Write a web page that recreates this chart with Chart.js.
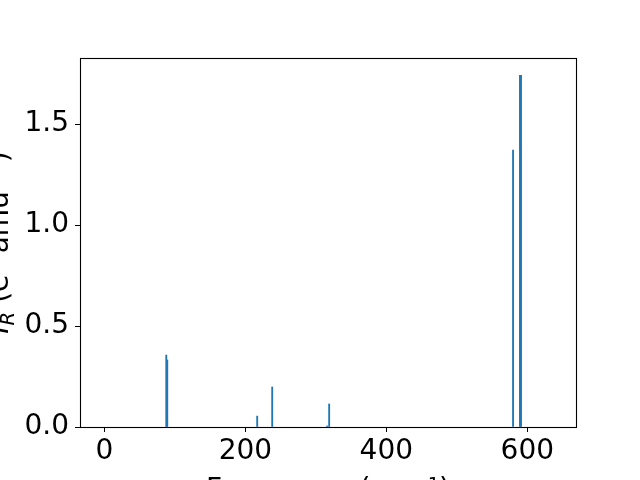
<!DOCTYPE html>
<html><head><meta charset="utf-8">
<script src="https://cdn.jsdelivr.net/npm/chart.js@4"></script>
<style>
html,body{margin:0;padding:0;overflow:hidden;background:#fff;width:640px;height:480px}
#wrap{position:absolute;left:-40px;top:0;width:680px;height:540px}
</style></head><body>
<div id="wrap"><canvas id="c" width="680" height="540"></canvas></div>
<script>
const frequencies = [87.8, 89.2, 216.8, 238.1, 316.0, 318.9, 579.8, 589.6, 591.1];
const intensities = [0.356, 0.332, 0.054, 0.198, 0.005, 0.114, 1.371, 1.741, 1.741];
const xTicks = [0, 200, 400, 600];
const yTicks = [0.0, 0.5, 1.0, 1.5];
const xLabel = 'Frequency (cm⁻¹)';
const yLabelParts = [
  {text: 'I', style: 'italic', size: 1, shift: 0},
  {text: 'R', style: 'italic', size: 0.7, shift: 0.2},
  {text: ' (e', style: 'normal', size: 1, shift: 0},
  {text: '2', style: 'normal', size: 0.7, shift: -0.4},
  {text: ' amu', style: 'normal', size: 1, shift: 0},
  {text: '−1', style: 'normal', size: 0.7, shift: -0.4},
  {text: ')', style: 'normal', size: 1, shift: 0}
];
const FONT = '"DejaVu Sans", sans-serif';
const FS = 28;

const points = frequencies.map((f, i) => ({x: f, y: intensities[i]}));

const framePlugin = {
  id: 'frame',
  afterDraw(chart) {
    const {ctx, chartArea: a} = chart;
    ctx.save();
    ctx.strokeStyle = '#000';
    ctx.lineWidth = 1.1;
    ctx.strokeRect(Math.round(a.left) + 0.5, Math.round(a.top) + 0.5,
                   Math.round(a.right - a.left), Math.round(a.bottom - a.top));
    // y axis label
    ctx.fillStyle = '#000';
    ctx.textBaseline = 'alphabetic';
    ctx.textAlign = 'left';
    let total = 0;
    const widths = yLabelParts.map(p => {
      ctx.font = p.style + ' ' + (FS * p.size) + 'px ' + FONT;
      const w = ctx.measureText(p.text).width;
      total += w;
      return w;
    });
    ctx.translate(48, (a.top + a.bottom) / 2);
    ctx.rotate(-Math.PI / 2);
    let x = -total / 2;
    yLabelParts.forEach((p, i) => {
      ctx.font = p.style + ' ' + (FS * p.size) + 'px ' + FONT;
      ctx.fillText(p.text, x, p.shift * FS);
      x += widths[i];
    });
    ctx.restore();
  }
};

new Chart(document.getElementById('c'), {
  type: 'bar',
  data: {
    datasets: [{
      data: points,
      backgroundColor: '#1f77b4',
      borderWidth: 0,
      barThickness: 1.2
    }]
  },
  options: {
    responsive: false,
    animation: false,
    devicePixelRatio: 1,
    layout: {padding: {left: 0, top: 58, right: 64, bottom: 0}},
    plugins: {legend: {display: false}, tooltip: {enabled: false}},
    scales: {
      x: {
        type: 'linear',
        min: -34.6,
        max: 669.1,
        offset: false,
        afterFit(s) { s.height = 113; },
        afterBuildTicks(s) { s.ticks = xTicks.map(v => ({value: v})); },
        grid: {offset: false, drawOnChartArea: false, drawTicks: true, tickLength: 5, color: '#000', lineWidth: 1},
        border: {display: false},
        ticks: {
          color: '#000', font: {family: FONT, size: FS}, padding: 3,
          maxRotation: 0, autoSkip: false,
          callback: v => String(v)
        },
        title: {
          display: true, text: xLabel, color: '#000',
          font: {family: FONT, size: FS}, padding: {top: 0, bottom: 32}
        }
      },
      y: {
        type: 'linear',
        min: 0,
        max: 1.827,
        afterFit(s) { s.width = 120; },
        afterBuildTicks(s) { s.ticks = yTicks.map(v => ({value: v})); },
        grid: {offset: false, drawOnChartArea: false, drawTicks: true, tickLength: 5, color: '#000', lineWidth: 1},
        border: {display: false},
        ticks: {
          color: '#000', font: {family: FONT, size: FS}, padding: 6,
          autoSkip: false,
          callback: v => Number(v).toFixed(1)
        }
      }
    }
  },
  plugins: [framePlugin]
});
</script>
</body></html>
